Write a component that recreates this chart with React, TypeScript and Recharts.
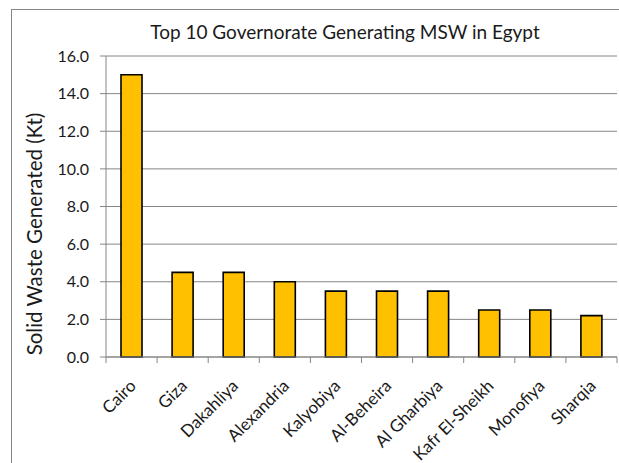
import React from "react";
import { Bar, BarChart, CartesianGrid, XAxis, YAxis } from "recharts";

const governorates = [
  "Cairo",
  "Giza",
  "Dakahliya",
  "Alexandria",
  "Kalyobiya",
  "Al-Beheira",
  "Al Gharbiya",
  "Kafr El-Sheikh",
  "Monofiya",
  "Sharqia",
];
const wasteKt = [15.0, 4.5, 4.5, 4.0, 3.5, 3.5, 3.5, 2.5, 2.5, 2.2];
const yTicks = [0, 2, 4, 6, 8, 10, 12, 14, 16];

const data = governorates.map((name, i) => ({ name, value: wasteKt[i] }));

const FONT = "Lato, 'Open Sans', sans-serif";
const AXIS_GRAY = "#868686";
const TEXT = "#1a1a1a";

// category ticks sit between the bars, labels sit under the bar centre.
// y arrives as axis + tickSize + tickMargin (6 + 2)
const CategoryTick = (props: any): React.JSX.Element => {
  const { x, y, payload, index } = props;
  const half = payload.offset ?? 0;
  const last = index === governorates.length - 1;
  const lx = x + 5.5;
  const ly = y + 22;
  return (
    <g>
      <line x1={x - half} x2={x - half} y1={y - 8} y2={y - 2} stroke={AXIS_GRAY} />
      {last && <line x1={x + half} x2={x + half} y1={y - 8} y2={y - 2} stroke={AXIS_GRAY} />}
      <text
        x={lx}
        y={ly}
        textAnchor="end"
        fill={TEXT}
        fontSize={17}
        fontFamily={FONT}
        transform={`rotate(-45, ${lx}, ${ly})`}
      >
        {payload.value}
      </text>
    </g>
  );
};

export default function App(): React.JSX.Element {
  return (
    <div
      style={{
        position: "absolute",
        left: 0,
        top: 0,
        width: 619,
        height: 463,
        overflow: "hidden",
        background: "#fff",
      }}
    >
      <div
        style={{
          position: "absolute",
          left: 11,
          top: 9,
          width: 700,
          height: 600,
          border: `1px solid ${AXIS_GRAY}`,
        }}
      />
      <BarChart
        width={619}
        height={463}
        data={data}
        margin={{ top: 56, right: 2, bottom: 0, left: 0 }}
        style={{ position: "absolute", left: 0, top: 0 }}
      >
        <text
          x={345}
          y={39}
          textAnchor="middle"
          fontSize={19}
          fontFamily={FONT}
          fill={TEXT}
        >
          Top 10 Governorate Generating MSW in Egypt
        </text>
        <text
          x={42}
          y={234}
          textAnchor="middle"
          fontSize={20.5}
          fontFamily={FONT}
          fill={TEXT}
          transform="rotate(-90, 42, 234)"
        >
          Solid Waste Generated (Kt)
        </text>
        <CartesianGrid vertical={false} stroke={AXIS_GRAY} strokeWidth={1} />
        <XAxis
          dataKey="name"
          interval={0}
          axisLine={{ stroke: AXIS_GRAY }}
          tickLine={false}
          tickSize={6}
          tickMargin={2}
          tick={<CategoryTick />}
          height={106}
        />
        <YAxis
          width={106}
          domain={[0, 16]}
          ticks={yTicks}
          interval={0}
          tickFormatter={(v: number) => v.toFixed(1)}
          axisLine={{ stroke: AXIS_GRAY }}
          tickLine={{ stroke: AXIS_GRAY }}
          tickSize={6}
          tickMargin={11}
          tick={{ fill: TEXT, fontSize: 16, fontFamily: FONT }}
        />
        <Bar
          dataKey="value"
          fill="#FFC000"
          stroke="#000"
          strokeWidth={1.6}
          barSize={21}
          isAnimationActive={false}
        />
      </BarChart>
    </div>
  );
}
